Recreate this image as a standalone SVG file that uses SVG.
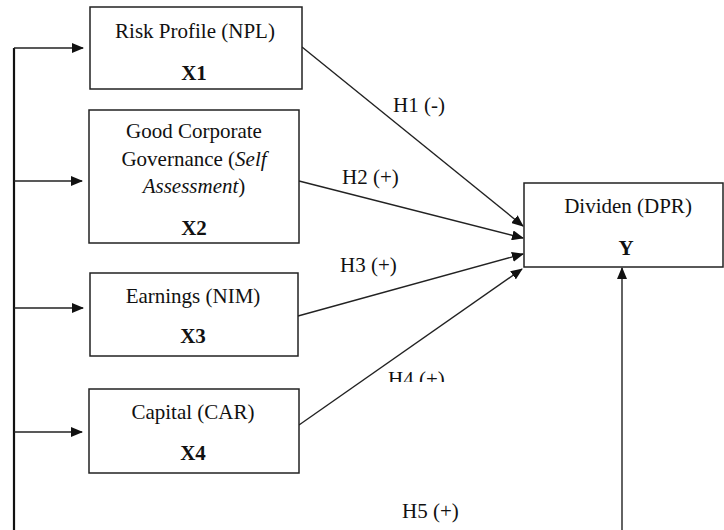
<svg xmlns="http://www.w3.org/2000/svg" width="724" height="530" viewBox="0 0 724 530">
<style>
.box{fill:#fff;stroke:#222;stroke-width:1.5}
text{font-family:'Liberation Serif','DejaVu Serif',serif;font-size:21px;fill:#111}
.t{text-anchor:middle}
.b{font-weight:bold}
.ln{fill:none;stroke:#222;stroke-width:1.4}
.vl{fill:none;stroke:#111;stroke-width:2.2}
</style>
<defs>
<marker id="ah" markerUnits="userSpaceOnUse" markerWidth="12" markerHeight="10" refX="11" refY="5" orient="auto">
<path d="M0,0 L12,5 L0,10 Z" fill="#111"/>
</marker>
<clipPath id="clipH4"><rect x="0" y="0" width="724" height="382"/></clipPath>
</defs>
<g id="connectors">
<path class="vl" d="M14,48 V530"/>
<path class="ln" d="M14,48 H83" marker-end="url(#ah)"/>
<path class="ln" d="M14,181 H82" marker-end="url(#ah)"/>
<path class="ln" d="M14,308 H83" marker-end="url(#ah)"/>
<path class="ln" d="M14,432 H82" marker-end="url(#ah)"/>
<path class="ln" d="M302,47 L523,226" marker-end="url(#ah)"/>
<path class="ln" d="M299,181 L523,238" marker-end="url(#ah)"/>
<path class="ln" d="M298,316 L523,254" marker-end="url(#ah)"/>
<path class="ln" d="M299,425 L522,269" marker-end="url(#ah)"/>
<path class="ln" d="M622,530 V268" marker-end="url(#ah)"/>
<text x="393" y="112" font-family="Liberation Serif, serif">H1 (-)</text>
<text x="342" y="184" font-family="Liberation Serif, serif">H2 (+)</text>
<text x="340" y="272" font-family="Liberation Serif, serif">H3 (+)</text>
<text x="388" y="386" font-family="Liberation Serif, serif" clip-path="url(#clipH4)">H4 (+)</text>
<text x="402" y="518" font-family="Liberation Serif, serif">H5 (+)</text>
</g>
<g id="x1">
<rect class="box" x="90" y="7" width="212" height="82"/>
<text class="t" x="195" y="38">Risk Profile (NPL)</text>
<text class="t b" x="194" y="80">X1</text>
</g>
<g id="x2">
<rect class="box" x="89" y="110" width="210" height="133"/>
<text class="t" x="194" y="138">Good Corporate</text>
<text class="t" x="194" y="166">Governance (<tspan font-style="italic">Self</tspan></text>
<text class="t" x="194" y="193"><tspan font-style="italic">Assessment</tspan>)</text>
<text class="t b" x="194" y="235">X2</text>
</g>
<g id="x3">
<rect class="box" x="90" y="273" width="208" height="83"/>
<text class="t" x="193" y="303">Earnings (NIM)</text>
<text class="t b" x="193" y="343">X3</text>
</g>
<g id="x4">
<rect class="box" x="89" y="389" width="210" height="84"/>
<text class="t" x="193" y="419">Capital (CAR)</text>
<text class="t b" x="193" y="460">X4</text>
</g>
<g id="y">
<rect class="box" x="524" y="183" width="199" height="84"/>
<text class="t" x="628" y="213">Dividen (DPR)</text>
<text class="t b" x="626" y="255">Y</text>
</g>
</svg>
